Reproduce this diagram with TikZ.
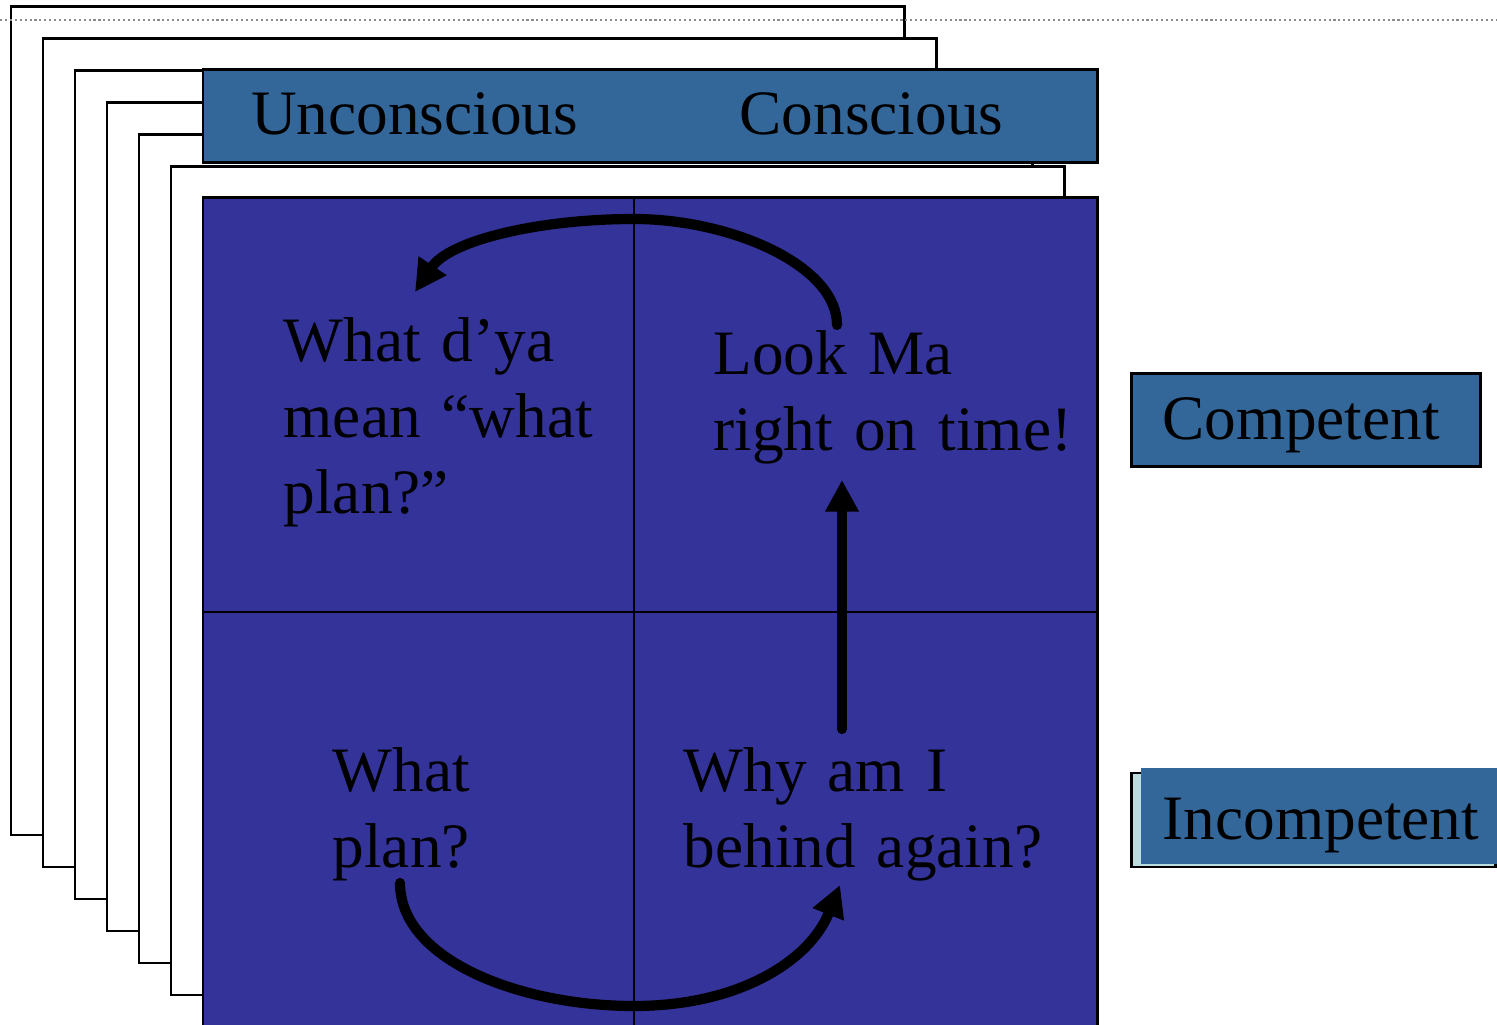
\documentclass[tikz,border=0pt]{standalone}
\usepackage{fontspec}
\setmainfont{Liberation Serif}
\usepackage{tikz}
\usetikzlibrary{arrows.meta}
\definecolor{hdr-blue}{HTML}{336699}
\definecolor{grid-blue}{HTML}{333399}
\definecolor{shadow-cyan}{HTML}{BBDDDD}

\begin{document}
\begin{tikzpicture}[x=0.1mm,y=-0.1mm,
		word/.style={anchor=base,inner sep=0pt,font=\fontsize{18}{21.6}\selectfont},
		quad/.style={word,anchor=base west,text width=45mm,align=left},
		cyclearrow/.style={line width=2.9pt,line cap=round,-{Triangle[length=9pt,width=9pt]}}]
				\clip (0,0) rectangle (1497,1025);
				% stack of cards behind the grid
				\foreach \i in {0,...,5}
					{\draw [fill=white,line width=0.85pt] (11+32*\i,7+32*\i) rectangle (904+32*\i,835+32*\i);}
				\draw [black!45,line width=0.6pt,dash pattern=on 0.6pt off 0.8pt] (0,20) -- (1497,20);

				% header and grid
				\draw [fill=hdr-blue,line width=0.85pt] (203,70) rectangle (1097,163);
				\node [word] (uncon) at (414.5,135) {Unconscious};
				\node [word] (con) at (871.5,135) {Conscious};
				\draw [fill=grid-blue,line width=0.85pt] (203,198) rectangle (1097,1040);
				\draw [line width=0.6pt] (634,198) -- (634,1040);
				\draw [line width=0.6pt] (203,612) -- (1097,612);

				% row labels
				\draw [fill=hdr-blue,line width=0.85pt] (1131,374) rectangle (1480,467);
				\node [word] (comp) at (1301,440) {Competent};
				\draw [fill=shadow-cyan,line width=0.85pt] (1131,773) rectangle (1495,867);
				\fill [hdr-blue] (1141,768) rectangle (1497,864);
				\node [word] (incomp) at (1321,840) {Incompetent};

				% quadrant texts
				\node [quad] (wdym) at (283,362) {What d’ya\\mean “what\\plan?”};
				\node [quad] (lookma) at (713,375) {Look Ma\\right on time!};
				\node [quad] (whatplan) at (332,792) {What\\plan?};
				\node [quad] (whyam) at (683,792) {Why am I\\behind again?};

				% cycle
				\coordinate (wp-out) at (400,883);
				\coordinate (wy-in) at (840,885);
				\coordinate (wy-out) at (842,729);
				\coordinate (lm-in) at (842,480);
				\coordinate (lm-out) at (837,325);
				\coordinate (wd-in) at (415,292);
				\draw [cyclearrow] (wp-out) .. controls (400,960) and (520,1006) .. (634,1006) .. controls (740,1006) and (810,960) .. (wy-in);
				\draw [cyclearrow] (wy-out) -- (lm-in);
				\draw [cyclearrow] (lm-out) .. controls (837,265) and (730,219) .. (634,219) .. controls (540,219) and (450,240) .. (wd-in);
		\end{tikzpicture}
\end{document}
